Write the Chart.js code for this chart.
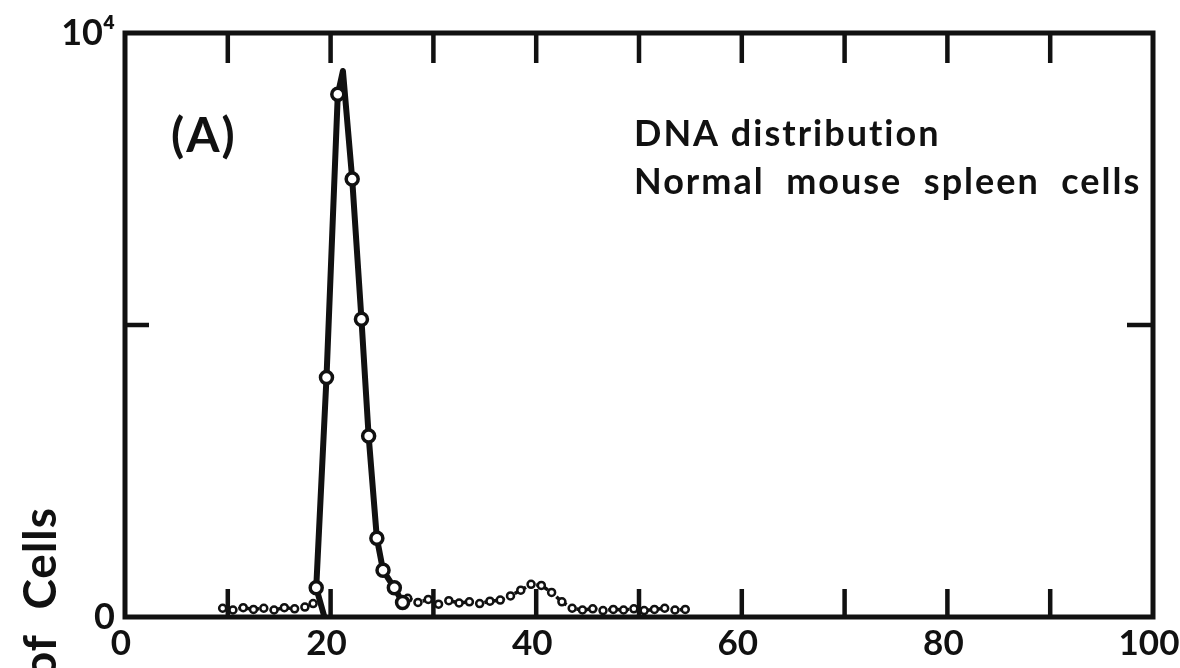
<!DOCTYPE html>
<html>
<head>
<meta charset="utf-8">
<script src="https://cdn.jsdelivr.net/npm/chart.js@4.4.0/dist/chart.umd.min.js"></script>
<style>
  html, body { margin: 0; padding: 0; background: #fff; }
  #wrap { width: 1180px; height: 668px; position: relative; }
</style>
</head>
<body>
<div id="wrap"><canvas id="dnaChart"></canvas></div>
<script>
// main G1 peak (solid line with circles), channel vs number of cells
const solidChannels = [19.4, 18.6, 19.6, 20.7, 21.2, 22.1, 23.0, 23.7, 24.5, 25.1, 26.2, 27.0];
const solidCounts   = [0, 500, 4100, 8950, 9350, 7500, 5100, 3100, 1350, 800, 500, 250];

// low-level dotted trace (break where the main peak takes over)
const dottedChannels = [9.5, 10.5, 11.5, 12.5, 13.5, 14.5, 15.5, 16.5, 17.5, 18.3, null,
  27.5, 28.5, 29.5, 30.5, 31.5, 32.5, 33.5, 34.5, 35.5, 36.5, 37.5, 38.5, 39.5, 40.5,
  41.5, 42.5, 43.5, 44.5, 45.5, 46.5, 47.5, 48.5, 49.5, 50.5, 51.5, 52.5, 53.5, 54.5];
const dottedCounts = [150, 120, 160, 130, 150, 120, 160, 140, 170, 230, null,
  320, 250, 300, 220, 280, 240, 260, 230, 270, 290, 360, 460, 560, 540,
  420, 260, 150, 120, 140, 110, 130, 120, 140, 110, 130, 150, 120, 130];

const xTickValues = [0, 20, 40, 60, 80, 100];
const xTickLabels = ['0', '20', '40', '60', '80', '100'];
const yTickValues = [0, 10000];
const yTickLabels = ['0', '10⁴'];
const xMarks = [10, 20, 30, 40, 50, 60, 70, 80, 90];
const yMarks = [5000];

const INK = '#111';
const FONT = 'Lato, "DejaVu Sans", sans-serif';
const peakCount = Math.max(...solidCounts);

function toPoints(xs, ys) {
  return xs.map((x, i) => (x === null ? { x: NaN, y: null } : { x: x, y: ys[i] }));
}

const framePlugin = {
  id: 'frame',
  afterDraw(chart) {
    const { ctx, chartArea: a, scales } = chart;
    ctx.save();
    ctx.strokeStyle = INK;
    ctx.lineWidth = 5;
    ctx.lineCap = 'butt';
    ctx.strokeRect(a.left, a.top, a.right - a.left, a.bottom - a.top);

    // inward tick marks on all four sides
    ctx.lineWidth = 4.5;
    ctx.beginPath();
    xMarks.forEach(v => {
      const px = scales.x.getPixelForValue(v);
      ctx.moveTo(px, a.top); ctx.lineTo(px, a.top + 30);
      ctx.moveTo(px, a.bottom); ctx.lineTo(px, a.bottom - 28);
    });
    yMarks.forEach(v => {
      const py = scales.y.getPixelForValue(v);
      ctx.moveTo(a.left, py); ctx.lineTo(a.left + 24, py);
      ctx.moveTo(a.right, py); ctx.lineTo(a.right - 26, py);
    });
    ctx.stroke();

    // panel text
    ctx.fillStyle = INK;
    ctx.textBaseline = 'alphabetic';
    ctx.textAlign = 'left';
    ctx.letterSpacing = '2px';
    ctx.font = 'bold 48px ' + FONT;
    ctx.fillText('(A)', 171, 152);
    ctx.font = 'bold 36px ' + FONT;
    ctx.fillText('DNA distribution', 634, 146);
    ctx.fillText('Normal  mouse  spleen  cells', 634, 194);

    // y axis title, runs off the bottom of the picture
    ctx.letterSpacing = '1px';
    ctx.translate(56, 507);
    ctx.rotate(-Math.PI / 2);
    ctx.textAlign = 'right';
    ctx.font = 'bold 46px ' + FONT;
    ctx.fillText('Number  of  Cells', 0, 0);
    ctx.restore();
  }
};

new Chart(document.getElementById('dnaChart'), {
  type: 'line',
  data: {
    datasets: [{
      label: 'DNA distribution',
      data: toPoints(solidChannels, solidCounts),
      borderColor: INK,
      borderWidth: 6,
      borderJoinStyle: 'round',
      tension: 0,
      pointRadius: c => (c.dataIndex === 0 || (c.raw && c.raw.y === peakCount) ? 0 : 6),
      pointBorderWidth: 3.5,
      pointBackgroundColor: '#fff',
      pointBorderColor: INK
    }, {
      label: 'low counts',
      data: toPoints(dottedChannels, dottedCounts),
      borderColor: INK,
      borderWidth: 3.5,
      borderDash: [5, 3],
      tension: 0,
      spanGaps: false,
      pointRadius: 3.5,
      pointBorderWidth: 2.5,
      pointBackgroundColor: '#fff',
      pointBorderColor: INK
    }]
  },
  options: {
    responsive: true,
    maintainAspectRatio: false,
    animation: false,
    devicePixelRatio: 1,
    layout: { padding: { top: 33, right: 27, left: 0, bottom: 0 } },
    plugins: { legend: { display: false }, tooltip: { enabled: false } },
    scales: {
      x: {
        type: 'linear',
        min: 0,
        max: 100,
        grid: { display: false, drawTicks: false },
        border: { display: false },
        afterBuildTicks: s => { s.ticks = xTickValues.map(v => ({ value: v })); },
        afterFit: s => { s.height = 51; s.paddingLeft = 0; s.paddingRight = 0; },
        ticks: {
          padding: 6,
          labelOffset: -4,
          color: INK,
          maxRotation: 0,
          font: { family: FONT, size: 35, weight: 'bold' },
          callback: v => xTickLabels[xTickValues.indexOf(v)]
        }
      },
      y: {
        type: 'linear',
        min: 0,
        max: 10000,
        grid: { display: false, drawTicks: false },
        border: { display: false },
        afterBuildTicks: s => { s.ticks = yTickValues.map(v => ({ value: v })); },
        afterFit: s => { s.width = 125; },
        ticks: {
          padding: 10,
          color: INK,
          font: { family: FONT, size: 36, weight: 'bold' },
          callback: v => yTickLabels[yTickValues.indexOf(v)]
        }
      }
    }
  },
  plugins: [framePlugin]
});
</script>
</body>
</html>
